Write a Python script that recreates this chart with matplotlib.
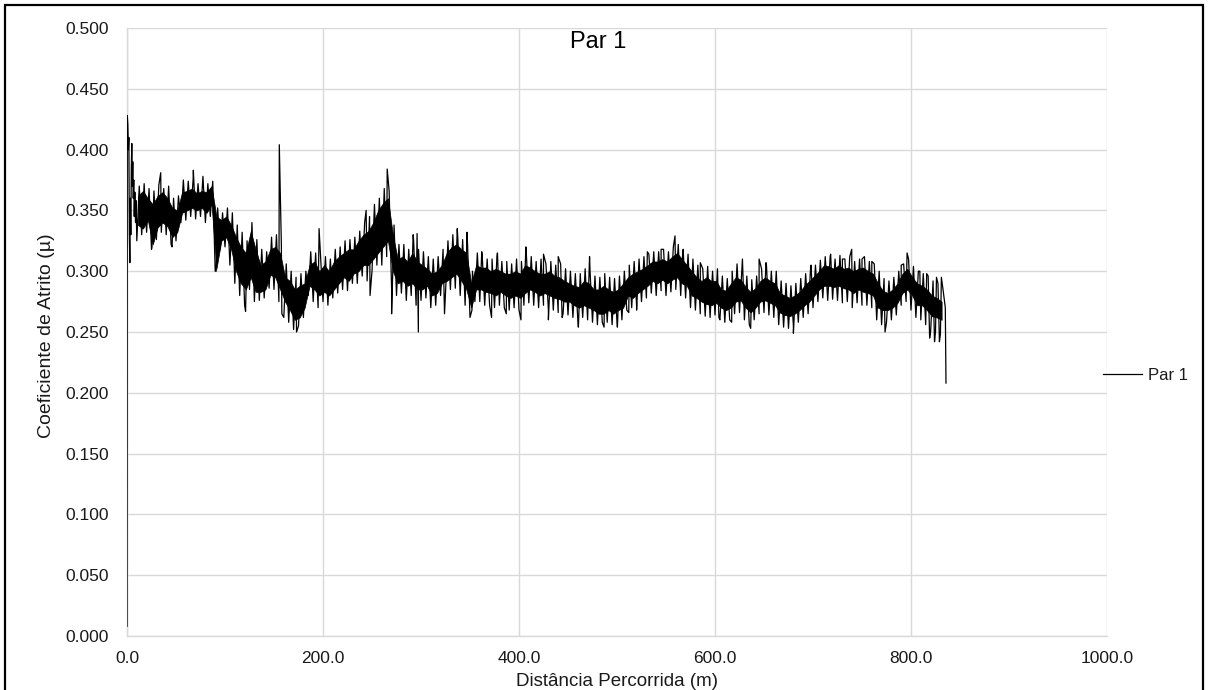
import numpy as np
import matplotlib
matplotlib.use("Agg")
import matplotlib.pyplot as plt
from matplotlib.lines import Line2D
from matplotlib.patches import Rectangle

plt.rcParams['font.family'] = ['Liberation Sans', 'DejaVu Sans']

# ---- data ----
title = "Par 1"
series_name = "Par 1"
x_label = "Distância Percorrida (m)"
y_label = "Coeficiente de Atrito (µ)"
x_ticks = [0, 200, 400, 600, 800, 1000]
y_ticks = [0.0, 0.05, 0.10, 0.15, 0.20, 0.25, 0.30, 0.35, 0.40, 0.45, 0.50]

# start of the run
head_x = [0.0, 0.3, 0.9, 1.4, 1.9, 2.4, 2.9, 3.4, 3.9, 4.4, 4.9, 5.4, 5.9, 6.4, 6.9, 7.4, 8.0, 8.7, 9.3]
head_mu = [0.008, 0.428, 0.420, 0.400, 0.410, 0.330, 0.307, 0.360, 0.330, 0.385, 0.405, 0.370, 0.390,
           0.360, 0.375, 0.345, 0.365, 0.340, 0.358]

# dense core of the noisy trace, low / high reading per 5 m, from 10 m to 830 m
band_start = list(range(10, 835, 5))
band_lo = [
    0.338, 0.335, 0.342, 0.322, 0.336, 0.340, 0.337, 0.328, 0.332, 0.348,
    0.350, 0.352, 0.350, 0.352, 0.348, 0.355, 0.302, 0.325, 0.328, 0.318,
    0.300, 0.290, 0.285, 0.295, 0.283, 0.283, 0.285, 0.297, 0.295, 0.285,
    0.275, 0.268, 0.260, 0.262, 0.270, 0.288, 0.285, 0.280, 0.283, 0.280,
    0.285, 0.290, 0.295, 0.292, 0.298, 0.300, 0.305, 0.305, 0.310, 0.315,
    0.320, 0.325, 0.300, 0.290, 0.292, 0.288, 0.290, 0.285, 0.285, 0.288,
    0.280, 0.282, 0.290, 0.292, 0.295, 0.298, 0.292, 0.285, 0.270, 0.285,
    0.285, 0.283, 0.282, 0.280, 0.283, 0.280, 0.278, 0.280, 0.278, 0.282,
    0.285, 0.283, 0.280, 0.282, 0.280, 0.278, 0.277, 0.275, 0.275, 0.272,
    0.270, 0.272, 0.270, 0.268, 0.265, 0.265, 0.268, 0.265, 0.268, 0.270,
    0.280, 0.278, 0.282, 0.285, 0.288, 0.292, 0.290, 0.293, 0.290, 0.293,
    0.295, 0.290, 0.288, 0.280, 0.278, 0.275, 0.273, 0.272, 0.274, 0.270,
    0.268, 0.270, 0.275, 0.276, 0.270, 0.266, 0.270, 0.275, 0.276, 0.274,
    0.272, 0.266, 0.264, 0.263, 0.265, 0.268, 0.272, 0.275, 0.280, 0.285,
    0.288, 0.288, 0.287, 0.288, 0.286, 0.285, 0.282, 0.285, 0.283, 0.282,
    0.280, 0.270, 0.268, 0.268, 0.270, 0.274, 0.282, 0.285, 0.280, 0.272,
    0.272, 0.268, 0.263, 0.262, 0.260]
band_hi = [
    0.362, 0.366, 0.360, 0.355, 0.362, 0.365, 0.360, 0.352, 0.350, 0.365,
    0.366, 0.368, 0.364, 0.366, 0.365, 0.370, 0.345, 0.342, 0.345, 0.338,
    0.328, 0.320, 0.315, 0.333, 0.318, 0.305, 0.308, 0.318, 0.320, 0.315,
    0.295, 0.292, 0.285, 0.288, 0.290, 0.305, 0.308, 0.300, 0.305, 0.300,
    0.308, 0.312, 0.315, 0.318, 0.318, 0.325, 0.330, 0.333, 0.340, 0.350,
    0.356, 0.360, 0.330, 0.310, 0.312, 0.308, 0.315, 0.308, 0.305, 0.302,
    0.298, 0.300, 0.305, 0.315, 0.320, 0.322, 0.318, 0.315, 0.290, 0.305,
    0.303, 0.303, 0.300, 0.302, 0.300, 0.298, 0.298, 0.300, 0.298, 0.305,
    0.303, 0.300, 0.298, 0.298, 0.300, 0.296, 0.295, 0.292, 0.290, 0.288,
    0.287, 0.292, 0.290, 0.285, 0.285, 0.288, 0.285, 0.283, 0.285, 0.290,
    0.295, 0.298, 0.300, 0.302, 0.305, 0.308, 0.308, 0.310, 0.308, 0.312,
    0.315, 0.310, 0.305, 0.300, 0.295, 0.292, 0.295, 0.292, 0.292, 0.285,
    0.284, 0.290, 0.295, 0.293, 0.287, 0.283, 0.286, 0.292, 0.295, 0.292,
    0.290, 0.282, 0.280, 0.278, 0.280, 0.283, 0.288, 0.292, 0.296, 0.300,
    0.305, 0.304, 0.302, 0.305, 0.302, 0.303, 0.300, 0.302, 0.303, 0.300,
    0.298, 0.290, 0.284, 0.282, 0.285, 0.290, 0.298, 0.302, 0.295, 0.290,
    0.288, 0.285, 0.280, 0.278, 0.275]

# extreme readings (whiskers) per 5 m
whisk_lo = [
    0.325, 0.330, 0.332, 0.318, 0.326, 0.332, 0.330, 0.322, 0.325, 0.340,
    0.342, 0.345, 0.343, 0.345, 0.340, 0.345, 0.300, 0.318, 0.320, 0.305,
    0.290, 0.280, 0.272, 0.285, 0.275, 0.276, 0.278, 0.286, 0.285, 0.275,
    0.262, 0.258, 0.252, 0.255, 0.262, 0.280, 0.275, 0.270, 0.275, 0.272,
    0.278, 0.282, 0.285, 0.284, 0.290, 0.290, 0.296, 0.292, 0.300, 0.305,
    0.305, 0.312, 0.285, 0.280, 0.282, 0.276, 0.280, 0.272, 0.276, 0.278,
    0.270, 0.272, 0.280, 0.282, 0.285, 0.286, 0.280, 0.272, 0.262, 0.275,
    0.275, 0.272, 0.272, 0.270, 0.272, 0.270, 0.268, 0.270, 0.268, 0.272,
    0.274, 0.272, 0.270, 0.272, 0.268, 0.268, 0.266, 0.265, 0.264, 0.262,
    0.260, 0.262, 0.260, 0.258, 0.256, 0.258, 0.258, 0.256, 0.258, 0.260,
    0.268, 0.270, 0.272, 0.275, 0.278, 0.282, 0.280, 0.284, 0.280, 0.283,
    0.285, 0.280, 0.278, 0.270, 0.268, 0.265, 0.263, 0.262, 0.264, 0.260,
    0.258, 0.260, 0.265, 0.266, 0.260, 0.256, 0.260, 0.265, 0.266, 0.264,
    0.262, 0.256, 0.254, 0.253, 0.255, 0.258, 0.262, 0.265, 0.270, 0.275,
    0.278, 0.276, 0.277, 0.276, 0.274, 0.275, 0.270, 0.274, 0.272, 0.272,
    0.270, 0.260, 0.256, 0.258, 0.260, 0.264, 0.272, 0.275, 0.268, 0.262,
    0.260, 0.256, 0.250, 0.250, 0.248]
whisk_hi = [
    0.370, 0.372, 0.368, 0.366, 0.371, 0.368, 0.370, 0.360, 0.362, 0.375,
    0.374, 0.376, 0.372, 0.378, 0.372, 0.374, 0.352, 0.348, 0.352, 0.348,
    0.338, 0.332, 0.325, 0.340, 0.326, 0.318, 0.316, 0.328, 0.330, 0.322,
    0.306, 0.300, 0.295, 0.298, 0.300, 0.316, 0.315, 0.312, 0.312, 0.310,
    0.318, 0.320, 0.325, 0.326, 0.328, 0.333, 0.340, 0.345, 0.355, 0.360,
    0.368, 0.366, 0.338, 0.322, 0.322, 0.318, 0.325, 0.318, 0.316, 0.312,
    0.310, 0.312, 0.318, 0.325, 0.330, 0.328, 0.326, 0.322, 0.300, 0.315,
    0.312, 0.310, 0.310, 0.312, 0.308, 0.308, 0.306, 0.310, 0.308, 0.314,
    0.312, 0.308, 0.310, 0.306, 0.308, 0.305, 0.306, 0.302, 0.300, 0.298,
    0.298, 0.302, 0.300, 0.296, 0.295, 0.298, 0.295, 0.294, 0.296, 0.300,
    0.305, 0.308, 0.310, 0.312, 0.314, 0.316, 0.316, 0.318, 0.316, 0.320,
    0.322, 0.318, 0.314, 0.310, 0.305, 0.302, 0.304, 0.300, 0.302, 0.296,
    0.294, 0.300, 0.306, 0.302, 0.296, 0.293, 0.296, 0.302, 0.305, 0.300,
    0.300, 0.292, 0.290, 0.288, 0.290, 0.294, 0.298, 0.302, 0.305, 0.309,
    0.312, 0.312, 0.310, 0.313, 0.310, 0.312, 0.308, 0.310, 0.312, 0.308,
    0.306, 0.300, 0.294, 0.292, 0.295, 0.300, 0.306, 0.310, 0.304, 0.300,
    0.298, 0.296, 0.292, 0.290, 0.286]

# isolated spikes
spike_x = [25.5, 34.4, 46.0, 67.7, 91.0, 121.0, 155.4, 158.0, 173.0, 196.0, 244.0, 248.0, 265.5,
           270.0, 292.0, 296.0, 297.3, 324.0, 337.0, 347.0, 352.0, 362.0, 372.0, 378.0, 387.0,
           402.0, 407.0, 425.0, 430.0, 440.0, 444.0, 460.6, 472.0, 486.8, 500.4, 512.0, 520.0,
           531.0, 545.0, 559.2, 567.0, 585.0, 604.0, 617.0, 628.0, 636.4, 645.0, 652.0, 680.0,
           698.0, 718.0, 730.0, 739.5, 750.0, 760.0, 773.5, 790.0, 796.0, 809.0, 816.0, 819.0,
           824.0, 826.0, 829.0, 831.0]
spike_mu = [0.320, 0.381, 0.320, 0.383, 0.300, 0.267, 0.404, 0.265, 0.250, 0.335, 0.350, 0.280, 0.384,
            0.265, 0.330, 0.331, 0.250, 0.265, 0.335, 0.332, 0.268, 0.316, 0.262, 0.315, 0.265,
            0.260, 0.320, 0.314, 0.260, 0.312, 0.262, 0.254, 0.312, 0.254, 0.254, 0.266, 0.268,
            0.316, 0.318, 0.329, 0.315, 0.307, 0.262, 0.258, 0.310, 0.253, 0.310, 0.307, 0.249,
            0.305, 0.314, 0.310, 0.318, 0.310, 0.308, 0.250, 0.305, 0.315, 0.300, 0.298, 0.245,
            0.242, 0.295, 0.242, 0.295]

# end of the run
tail_x = [835.0, 835.7]
tail_mu = [0.270, 0.208]

# ---- assemble the trace ----
xs = list(head_x)
ys = list(head_mu)
for s, lo, hi in zip(band_start, whisk_lo, whisk_hi):
    xs += [s, s + 2.5]
    ys += [lo, hi]
xs += spike_x + tail_x
ys += spike_mu + tail_mu
xs = np.array(xs)
ys = np.array(ys)
order = np.argsort(xs, kind="stable")
xs, ys = xs[order], ys[order]

band_x = np.array(band_start) + 1.25

# ---- figure ----
W, H = 1209, 690
fig = plt.figure(figsize=(W / 100, H / 100), dpi=100)
ax = fig.add_axes([127 / W, 1 - 636 / H, 980 / W, 608 / H])

ax.fill_between(band_x, band_lo, band_hi, color="black", lw=0.5, edgecolor="black", zorder=2)
ax.plot(xs, ys, color="black", lw=0.9, label=series_name, zorder=3)

ax.set_xlim(0, 1000)
ax.set_ylim(0, 0.5)
ax.set_xticks(x_ticks)
ax.set_xticklabels([f"{v:.1f}" for v in x_ticks])
ax.set_yticks(y_ticks)
ax.set_yticklabels([f"{v:.3f}" for v in y_ticks])
ax.grid(True, color="#d9d9d9", lw=1.0)
ax.set_axisbelow(True)
for side in ["top", "right"]:
    ax.spines[side].set_visible(False)
for side in ["left", "bottom"]:
    ax.spines[side].set_color("#d9d9d9")
    ax.spines[side].set_linewidth(1.0)
ax.tick_params(axis="both", length=0, labelsize=12.5, colors="#1a1a1a")
ax.tick_params(axis="y", pad=13)
ax.tick_params(axis="x", pad=11)

fig.text(47 / W, 1 - 336 / H, y_label, rotation=90, ha="center", va="center",
         fontsize=14, color="#1a1a1a")
fig.text(617 / W, 1 - 681 / H, x_label, ha="center", va="center", fontsize=13.5, color="#1a1a1a")
fig.text(598 / W, 1 - 42 / H, title, ha="center", va="center", fontsize=17, color="black")

handle = Line2D([], [], color="black", lw=0.9)
ax.legend([handle], [series_name], loc="center left",
          bbox_to_anchor=(1103 / W, 1 - 375 / H), bbox_transform=fig.transFigure,
          frameon=False, fontsize=12, handlelength=2.35, handletextpad=0.35,
          borderpad=0, borderaxespad=0, labelcolor="#1a1a1a")

# outer frame of the chart
fig.add_artist(Rectangle((5 / W, -0.2), 1198 / W, 1.2 - 5 / H, transform=fig.transFigure,
                         fill=False, edgecolor="black", lw=1.6))

fig.savefig("out.png", dpi=100)
